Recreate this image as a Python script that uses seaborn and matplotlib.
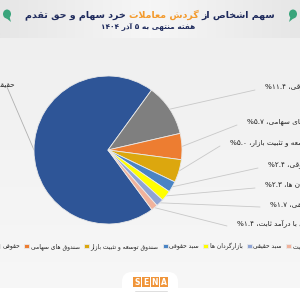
import re
import numpy as np
import matplotlib
matplotlib.use('Agg')
import matplotlib.pyplot as plt
import seaborn as sns
from matplotlib.patches import FancyBboxPatch, Rectangle, Ellipse, Polygon

# ---------------- data ----------------
categories = ['حقیقی', 'حقوقی', 'صندوق های سهامی', 'صندوق توسعه و تثبیت بازار',
              'سبد حقوقی', 'بازارگردان ها', 'سبد حقیقی', 'صندوق های با درآمد ثابت']
values = [70.1, 11.4, 5.7, 5.0, 2.4, 2.3, 1.7, 1.4]
colors = ['#2E5597', '#7F7F7F', '#ED7D31', '#DCA70E', '#4A84C4', '#FFFF00', '#8FA4D4', '#F0B29C']
title_parts = ['سهم اشخاص از', 'گردش معاملات', 'خرد سهام و حق تقدم']
subtitle = 'هفته منتهی به ۵ آذر ۱۴۰۴'

# ---------------- minimal Persian shaping ----------------
DUAL = {
    'ب': (0xFE8F, 0xFE90, 0xFE91, 0xFE92), 'پ': (0xFB56, 0xFB57, 0xFB58, 0xFB59),
    'ت': (0xFE95, 0xFE96, 0xFE97, 0xFE98), 'ث': (0xFE99, 0xFE9A, 0xFE9B, 0xFE9C),
    'ج': (0xFE9D, 0xFE9E, 0xFE9F, 0xFEA0), 'چ': (0xFB7A, 0xFB7B, 0xFB7C, 0xFB7D),
    'ح': (0xFEA1, 0xFEA2, 0xFEA3, 0xFEA4), 'خ': (0xFEA5, 0xFEA6, 0xFEA7, 0xFEA8),
    'س': (0xFEB1, 0xFEB2, 0xFEB3, 0xFEB4), 'ش': (0xFEB5, 0xFEB6, 0xFEB7, 0xFEB8),
    'ص': (0xFEB9, 0xFEBA, 0xFEBB, 0xFEBC), 'ض': (0xFEBD, 0xFEBE, 0xFEBF, 0xFEC0),
    'ط': (0xFEC1, 0xFEC2, 0xFEC3, 0xFEC4), 'ظ': (0xFEC5, 0xFEC6, 0xFEC7, 0xFEC8),
    'ع': (0xFEC9, 0xFECA, 0xFECB, 0xFECC), 'غ': (0xFECD, 0xFECE, 0xFECF, 0xFED0),
    'ف': (0xFED1, 0xFED2, 0xFED3, 0xFED4), 'ق': (0xFED5, 0xFED6, 0xFED7, 0xFED8),
    'ک': (0xFB8E, 0xFB8F, 0xFB90, 0xFB91), 'گ': (0xFB92, 0xFB93, 0xFB94, 0xFB95),
    'ل': (0xFEDD, 0xFEDE, 0xFEDF, 0xFEE0), 'م': (0xFEE1, 0xFEE2, 0xFEE3, 0xFEE4),
    'ن': (0xFEE5, 0xFEE6, 0xFEE7, 0xFEE8), 'ه': (0xFEE9, 0xFEEA, 0xFEEB, 0xFEEC),
    'ی': (0xFBFC, 0xFBFD, 0xFBFE, 0xFBFF),
}
RIGHT = {
    'ا': (0xFE8D, 0xFE8E), 'آ': (0xFE81, 0xFE82), 'د': (0xFEA9, 0xFEAA),
    'ذ': (0xFEAB, 0xFEAC), 'ر': (0xFEAD, 0xFEAE), 'ز': (0xFEAF, 0xFEB0),
    'ژ': (0xFB8A, 0xFB8B), 'و': (0xFEED, 0xFEEE),
}
LAMALEF = {'ا': (0xFEFB, 0xFEFC), 'آ': (0xFEF5, 0xFEF6)}


def _is_ar(c):
    return c is not None and (c in DUAL or c in RIGHT)


def shape(s):
    res = []
    i, n = 0, len(s)
    while i < n:
        c = s[i]
        prev = s[i - 1] if i > 0 else None
        nxt = s[i + 1] if i + 1 < n else None
        jp = prev in DUAL if prev is not None else False
        if c == 'ل' and nxt in LAMALEF:
            f = LAMALEF[nxt]
            res.append(chr(f[1] if jp else f[0]))
            i += 2
            continue
        if c in DUAL:
            jn = _is_ar(nxt)
            f = DUAL[c]
            idx = 3 if (jp and jn) else (1 if jp else (2 if jn else 0))
            res.append(chr(f[idx]))
        elif c in RIGHT:
            f = RIGHT[c]
            res.append(chr(f[1] if jp else f[0]))
        else:
            res.append(c)
        i += 1
    return ''.join(res)


NUM = r'[0-9۰-۹.%٪/]'


def vis(s):
    sh = shape(s)
    runs = re.findall(NUM + r'+|[^0-9۰-۹.%٪/]+', sh)
    out = []
    for r in reversed(runs):
        out.append(r if re.match(NUM, r) else r[::-1])
    return ''.join(out)


def fa_num(v):
    return f'{v:.1f}'.translate(str.maketrans('0123456789', '۰۱۲۳۴۵۶۷۸۹'))


# ---------------- figure ----------------
sns.set_theme(style='white')
plt.rcParams['font.family'] = ['DejaVu Sans']
palette = sns.color_palette(colors)

fig = plt.figure(figsize=(3, 3), dpi=100)
bg = fig.add_axes([0, 0, 1, 1])
bg.set_xlim(0, 300)
bg.set_ylim(300, 0)
bg.axis('off')

# background gradient
grad = np.linspace(0, 1, 256)[:, None]
bg.imshow(grad, extent=(0, 300, 300, 0), cmap=matplotlib.colors.LinearSegmentedColormap.from_list(
    'g', ['#eeeeee', '#f3f3f3', '#f7f7f7']), aspect='auto', zorder=0)
# header band
hgrad = np.abs(np.linspace(-1, 1, 256))[None, :]
bg.imshow(hgrad, extent=(0, 300, 38, 0), cmap=matplotlib.colors.LinearSegmentedColormap.from_list(
    'h', ['#f6f6f6', '#e6e6e6']), aspect='auto', zorder=0.5)
# footer
bg.add_patch(Rectangle((0, 288), 300, 12, color='white', zorder=1, lw=0))
bg.add_patch(FancyBboxPatch((122, 272), 56, 30, boxstyle='round,pad=0,rounding_size=10',
                            fc='white', ec='none', zorder=1))
for i, ch in enumerate('SENA'):
    bg.add_patch(Rectangle((133 + i * 9, 277), 8, 10, fc='#F0953A', ec='none', zorder=2))
    bg.text(137 + i * 9, 282.5, ch, color='white', fontsize=5.5, fontweight='bold',
            ha='center', va='center', zorder=3)
bg.plot([135, 167], [291, 291], color='#d9d9d9', lw=0.6, zorder=2)

# green icons
for cx, flip in ((7, 1), (293, -1)):
    bg.add_patch(Ellipse((cx, 14), 8, 9, fc='#3AA57C', ec='none', zorder=2))
    bg.add_patch(Polygon([(cx - 2 * flip, 17), (cx + 4 * flip, 22), (cx + 2 * flip, 15)],
                         fc='#3AA57C', ec='none', zorder=2))

# title
navy = '#1E2A5C'
orange = '#F39A2C'
tfs = 6.8
t_mid = bg.text(0, 15, vis(title_parts[1]), color=orange, fontsize=tfs, fontweight='bold',
                ha='left', va='center', zorder=3)
t_left = bg.text(0, 15, vis(title_parts[2]), color=navy, fontsize=tfs, fontweight='bold',
                 ha='left', va='center', zorder=3)
t_right = bg.text(0, 15, vis(title_parts[0]), color=navy, fontsize=tfs, fontweight='bold',
                  ha='left', va='center', zorder=3)
fig.canvas.draw()
r = fig.canvas.get_renderer()
gap = 3
w = [t.get_window_extent(r).width for t in (t_left, t_mid, t_right)]
total = sum(w) + 2 * gap
x0 = 150 - total / 2
t_left.set_x(x0)
t_mid.set_x(x0 + w[0] + gap)
t_right.set_x(x0 + w[0] + w[1] + 2 * gap)
bg.text(148, 27, vis(subtitle), color=navy, fontsize=5.3, fontweight='bold',
        ha='center', va='center', zorder=3)

# pie
cx, cy, R = 108, 150, 74
pax = fig.add_axes([(cx - R) / 300, (300 - cy - R) / 300, 2 * R / 300, 2 * R / 300])
start = 54 + 360 * values[0] / sum(values)
wedges, _ = pax.pie(values, colors=palette, startangle=start, counterclock=False,
                    wedgeprops=dict(edgecolor='#e9e9e9', linewidth=0.6))
pax.set_xlim(-1, 1)
pax.set_ylim(-1, 1)
pax.axis('off')

# labels
label_xy = [(15, 84), (265, 87), (247, 122), (230, 143), (268, 165), (265, 185), (270, 204), (237, 223)]
for k, (wd, cat, v) in enumerate(zip(wedges, categories, values)):
    txt = vis(f'{cat}، %{fa_num(v)}')
    lx, ly = label_xy[k]
    if k == 0:
        bg.text(lx, ly, txt, fontsize=5.2, color='#222222', ha='right', va='center', zorder=3)
        ex, ey = cx - R, cy
        bg.plot([lx - 8, ex], [ly + 3, ey], color='#b0b0b0', lw=0.6, zorder=2)
    else:
        bg.text(lx, ly, txt, fontsize=5.2, color='#222222', ha='left', va='center', zorder=3)
        th = np.deg2rad((wd.theta1 + wd.theta2) / 2)
        ex, ey = cx + R * np.cos(th), cy - R * np.sin(th)
        bg.plot([ex, lx - 10], [ey, ly + 3], color='#c8c8c8', lw=0.6, zorder=2)

fig.legend(handles=wedges, labels=[vis(c) for c in categories], ncol=8, loc='center',
           bbox_to_anchor=(0.54, 1 - 246 / 300), frameon=False, fontsize=4.3,
           handlelength=0.8, handleheight=0.8, handletextpad=0.3, columnspacing=0.7,
           labelcolor='#222222')

fig.savefig('out.png', dpi=100)
